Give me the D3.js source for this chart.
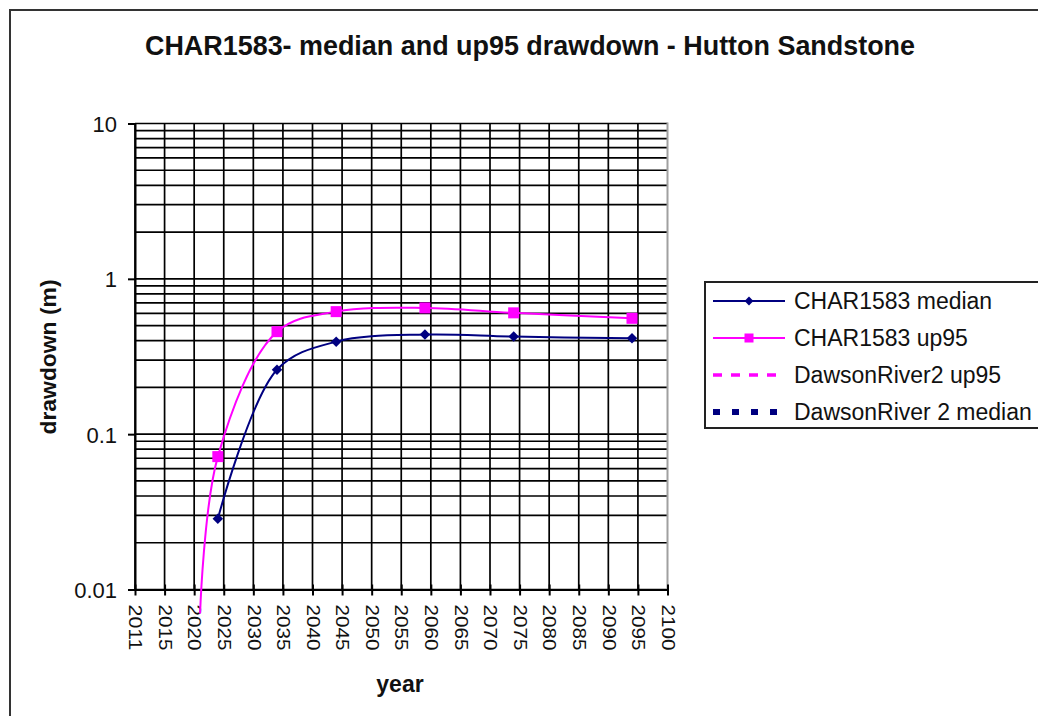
<!DOCTYPE html>
<html>
<head>
<meta charset="utf-8">
<script src="https://cdn.jsdelivr.net/npm/d3@7"></script>
<style>
  body { margin: 0; background: #fff; }
  svg { display: block; }
  text { font-family: "Liberation Sans", Arial, sans-serif; fill: #111; }
</style>
</head>
<body>
<div id="chart"></div>
<script>
// setting up constants
const FRAME_WIDTH = 1038;
const FRAME_HEIGHT = 716;
const PLOT = {left: 135, right: 667.5, top: 123.5, bottom: 589.5};

// data
const tickYears = [2010, 2015, 2020, 2025, 2030, 2035, 2040, 2045, 2050, 2055,
                   2060, 2065, 2070, 2075, 2080, 2085, 2090, 2095, 2100];
const tickLabels = ["2011", "2015", "2020", "2025", "2030", "2035", "2040", "2045", "2050", "2055",
                    "2060", "2065", "2070", "2075", "2080", "2085", "2090", "2095", "2100"];
const yTicks = [0.01, 0.1, 1, 10];
const yTickLabels = ["0.01", "0.1", "1", "10"];

const medianYears = [2024, 2034, 2044, 2059, 2074, 2094];
const medianValues = [0.0285, 0.26, 0.394, 0.438, 0.425, 0.414];

const up95Years = [2021, 2024, 2034, 2044, 2059, 2074, 2094];
const up95Values = [0.007, 0.0717, 0.457, 0.615, 0.65, 0.604, 0.557];

const legendNames = ["CHAR1583 median", "CHAR1583 up95", "DawsonRiver2 up95", "DawsonRiver 2 median"];

const NAVY = "#000080";
const PINK = "#ff00ff";

const svg = d3.select("#chart")
    .append("svg")
    .attr("width", FRAME_WIDTH)
    .attr("height", FRAME_HEIGHT);

// outer chart border
svg.append("rect")
    .attr("x", 10).attr("y", 10)
    .attr("width", 1100).attr("height", 800)
    .attr("fill", "#fff")
    .attr("stroke", "#333")
    .attr("stroke-width", 2);

// title
svg.append("text")
    .attr("x", 145).attr("y", 55)
    .attr("font-size", 27)
    .attr("font-weight", "bold")
    .attr("textLength", 770)
    .attr("lengthAdjust", "spacingAndGlyphs")
    .text("CHAR1583- median and up95 drawdown - Hutton Sandstone");

// scales
const xScale = d3.scaleLinear()
    .domain([tickYears[0], tickYears[tickYears.length - 1]])
    .range([PLOT.left, PLOT.right]);

const yScale = d3.scaleLog()
    .domain([yTicks[0], yTicks[yTicks.length - 1]])
    .range([PLOT.bottom, PLOT.top]);

// horizontal grid: every 1..9 of each decade
const gridValues = [];
yTicks.slice(0, -1).forEach(d => { for (let k = 1; k <= 9; k++) gridValues.push(d * k); });
gridValues.push(yTicks[yTicks.length - 1]);

svg.append("g")
    .selectAll("line")
    .data(gridValues)
    .enter()
    .append("line")
    .attr("x1", PLOT.left).attr("x2", PLOT.right)
    .attr("y1", d => yScale(d)).attr("y2", d => yScale(d))
    .attr("stroke", "#000")
    .attr("stroke-width", 1.7);

// vertical grid at each tick
svg.append("g")
    .selectAll("line")
    .data(tickYears.slice(0, -1))
    .enter()
    .append("line")
    .attr("x1", d => xScale(d)).attr("x2", d => xScale(d))
    .attr("y1", PLOT.top).attr("y2", PLOT.bottom)
    .attr("stroke", "#000")
    .attr("stroke-width", 1.7);

// grey plot border on the right
svg.append("line")
    .attr("x1", PLOT.right).attr("x2", PLOT.right)
    .attr("y1", PLOT.top - 1).attr("y2", PLOT.bottom)
    .attr("stroke", "#a0a0a0")
    .attr("stroke-width", 2);

// y axis
const yAxis = svg.append("g")
    .attr("transform", "translate(" + PLOT.left + ",0)")
    .call(d3.axisLeft(yScale)
        .tickValues(yTicks)
        .tickSize(7)
        .tickPadding(11)
        .tickFormat((d, i) => yTickLabels[i]));
yAxis.select(".domain").attr("stroke", "#000").attr("stroke-width", 2);
yAxis.selectAll(".tick line").attr("stroke", "#000").attr("stroke-width", 2);
yAxis.selectAll(".tick text")
    .attr("font-size", 22)
    .attr("font-family", "Liberation Sans, Arial, sans-serif")
    .attr("fill", "#111")
    .attr("dy", "0.36em");

// x axis
const xAxis = svg.append("g")
    .attr("transform", "translate(0," + PLOT.bottom + ")")
    .call(d3.axisBottom(xScale)
        .tickValues(tickYears)
        .tickSizeInner(6)
        .tickSizeOuter(0)
        .tickFormat((d, i) => tickLabels[i]));
xAxis.select(".domain").attr("stroke", "#000").attr("stroke-width", 2);
xAxis.selectAll(".tick line")
    .attr("y1", -5)
    .attr("stroke", "#000").attr("stroke-width", 2);
xAxis.selectAll(".tick text")
    .attr("font-size", 18)
    .attr("font-family", "Liberation Sans, Arial, sans-serif")
    .attr("fill", "#111")
    .attr("text-anchor", "start")
    .attr("x", 0).attr("y", 0)
    .attr("dy", "0.35em")
    .attr("textLength", 46)
    .attr("lengthAdjust", "spacingAndGlyphs")
    .attr("transform", "translate(0,15) rotate(90)");

// axis titles
svg.append("text")
    .attr("transform", "translate(56,357) rotate(-90)")
    .attr("text-anchor", "middle")
    .attr("font-size", 22)
    .attr("font-weight", "bold")
    .attr("textLength", 155)
    .attr("lengthAdjust", "spacingAndGlyphs")
    .text("drawdown (m)");

svg.append("text")
    .attr("x", 400).attr("y", 692)
    .attr("text-anchor", "middle")
    .attr("font-size", 23)
    .attr("font-weight", "bold")
    .text("year");

// series lines
const line = d3.line()
    .x(d => xScale(d[0]))
    .y(d => yScale(d[1]))
    .curve(d3.curveCatmullRom);

const medianData = medianYears.map((y, i) => [y, medianValues[i]]);
const up95Data = up95Years.map((y, i) => [y, up95Values[i]]);

svg.append("path")
    .datum(up95Data)
    .attr("d", line)
    .attr("fill", "none")
    .attr("stroke", PINK)
    .attr("stroke-width", 2);

svg.append("path")
    .datum(medianData)
    .attr("d", line)
    .attr("fill", "none")
    .attr("stroke", NAVY)
    .attr("stroke-width", 2);

// markers (only inside the plot range)
const inRange = d => d[1] >= yTicks[0];

svg.append("g")
    .selectAll("rect")
    .data(up95Data.filter(inRange))
    .enter()
    .append("rect")
    .attr("x", d => xScale(d[0]) - 5.5)
    .attr("y", d => yScale(d[1]) - 5.5)
    .attr("width", 11).attr("height", 11)
    .attr("fill", PINK);

svg.append("g")
    .selectAll("path")
    .data(medianData.filter(inRange))
    .enter()
    .append("path")
    .attr("d", d3.symbol(d3.symbolDiamond2, 70))
    .attr("transform", d => "translate(" + xScale(d[0]) + "," + yScale(d[1]) + ")")
    .attr("fill", NAVY);

// legend
const LEGEND = {x: 705, y: 282, rowH: 37, firstRow: 301};
const legend = svg.append("g");
legend.append("rect")
    .attr("x", LEGEND.x).attr("y", LEGEND.y)
    .attr("width", 400).attr("height", 146)
    .attr("fill", "#fff")
    .attr("stroke", "#222")
    .attr("stroke-width", 2);

const legendStyles = [
    {color: NAVY, width: 2, dash: null, marker: "diamond"},
    {color: PINK, width: 2, dash: null, marker: "square"},
    {color: PINK, width: 3.5, dash: "9,9", marker: null},
    {color: NAVY, width: 6, dash: "7,12", marker: null}
];

legendNames.forEach((name, i) => {
    const cy = LEGEND.firstRow + i * LEGEND.rowH;
    const st = legendStyles[i];
    legend.append("line")
        .attr("x1", 713).attr("x2", 785)
        .attr("y1", cy).attr("y2", cy)
        .attr("stroke", st.color)
        .attr("stroke-width", st.width)
        .attr("stroke-dasharray", st.dash);
    if (st.marker === "diamond") {
        legend.append("path")
            .attr("d", d3.symbol(d3.symbolDiamond2, 50))
            .attr("transform", "translate(749," + cy + ")")
            .attr("fill", st.color);
    } else if (st.marker === "square") {
        legend.append("rect")
            .attr("x", 744.5).attr("y", cy - 4.5)
            .attr("width", 9).attr("height", 9)
            .attr("fill", st.color);
    }
    legend.append("text")
        .attr("x", 794).attr("y", cy + 8)
        .attr("font-size", 23)
        .text(name);
});
</script>
</body>
</html>
